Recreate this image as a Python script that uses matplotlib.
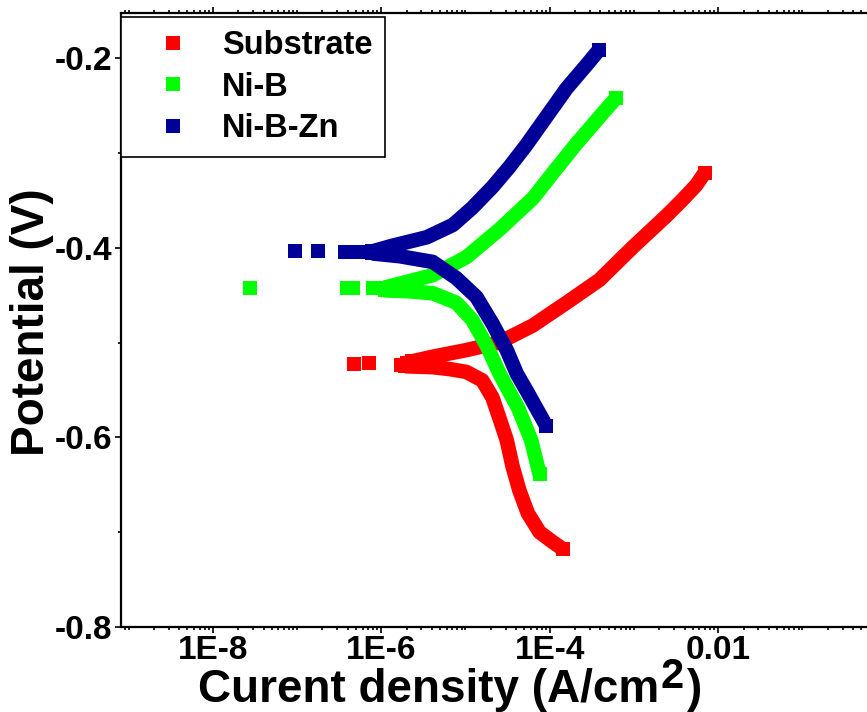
import numpy as np
import matplotlib
matplotlib.use("Agg")
import matplotlib.pyplot as plt
from matplotlib.ticker import FixedLocator, FixedFormatter, LogLocator, MultipleLocator, NullFormatter

plt.rcParams['font.family'] = ['Liberation Sans', 'DejaVu Sans']
plt.rcParams['font.weight'] = 'bold'

# -----------------------------------------------------------------------------
# Data: log10(current density / A cm^-2), potential (V)

names = ["Substrate", "Ni-B", "Ni-B-Zn"]
colors = ["#ff0000", "#00ff00", "#000099"]

# sparse points near the corrosion potential
sub_pts_logi = [-6.32, -6.14, -5.77, -5.70]
sub_pts_E = [-0.523, -0.522, -0.524, -0.522]
nib_pts_logi = [-7.56, -6.41, -6.34, -6.10, -6.03]
nib_pts_E = [-0.442, -0.443, -0.443, -0.443, -0.443]
zn_pts_logi = [-7.02, -6.75, -6.43, -6.35, -6.20]
zn_pts_E = [-0.404, -0.404, -0.405, -0.405, -0.405]

# anodic branches
sub_an_logi = [-5.64, -5.39, -4.99, -4.60, -4.20, -3.80, -3.41, -3.02, -2.61, -2.43, -2.26, -2.16]
sub_an_E = [-0.520, -0.515, -0.508, -0.500, -0.482, -0.458, -0.434, -0.400, -0.366, -0.350, -0.334, -0.321]
nib_an_logi = [-5.96, -5.78, -5.39, -4.99, -4.60, -4.20, -3.97, -3.68, -3.34, -3.21]
nib_an_E = [-0.442, -0.438, -0.429, -0.410, -0.381, -0.348, -0.322, -0.290, -0.255, -0.242]
zn_an_logi = [-6.11, -5.87, -5.46, -5.15, -4.92, -4.68, -4.48, -4.28, -4.04, -3.80, -3.56, -3.42]
zn_an_E = [-0.404, -0.398, -0.389, -0.376, -0.358, -0.336, -0.315, -0.292, -0.262, -0.232, -0.207, -0.192]

# cathodic branches
sub_ca_logi = [-5.72, -5.39, -5.19, -4.99, -4.80, -4.68, -4.60, -4.51, -4.44, -4.36, -4.26, -4.12, -3.97, -3.84]
sub_ca_E = [-0.525, -0.526, -0.528, -0.531, -0.540, -0.558, -0.579, -0.603, -0.631, -0.656, -0.680, -0.700, -0.710, -0.718]
nib_ca_logi = [-5.96, -5.66, -5.39, -5.11, -4.92, -4.75, -4.60, -4.48, -4.38, -4.22, -4.17, -4.12]
nib_ca_E = [-0.445, -0.446, -0.448, -0.458, -0.476, -0.503, -0.532, -0.552, -0.568, -0.603, -0.621, -0.639]
zn_ca_logi = [-6.11, -5.78, -5.39, -5.11, -4.87, -4.68, -4.51, -4.39, -4.26, -4.16, -4.04]
zn_ca_E = [-0.406, -0.409, -0.415, -0.432, -0.452, -0.480, -0.508, -0.533, -0.553, -0.569, -0.588]

xtick_vals = [1e-8, 1e-6, 1e-4, 1e-2]
xtick_labels = ["1E-8", "1E-6", "1E-4", "0.01"]
ytick_vals = [-0.8, -0.6, -0.4, -0.2]
ytick_labels = ["-0.8", "-0.6", "-0.4", "-0.2"]

# -----------------------------------------------------------------------------

W, H = 867, 712
fig = plt.figure(figsize=(W / 100, H / 100), dpi=100)
ax = fig.add_axes([121 / W, (H - 627) / H, 1 - 121 / W, (627 - 13) / H])

lw = 10.5
ms = 9.4
series = [
    (sub_pts_logi, sub_pts_E, sub_an_logi, sub_an_E, sub_ca_logi, sub_ca_E),
    (nib_pts_logi, nib_pts_E, nib_an_logi, nib_an_E, nib_ca_logi, nib_ca_E),
    (zn_pts_logi, zn_pts_E, zn_an_logi, zn_an_E, zn_ca_logi, zn_ca_E),
]
handles = []
for name, c, (pl, pe, al, ae, cl, ce) in zip(names, colors, series):
    h, = ax.plot(10 ** np.array(pl), pe, 's', color=c, ms=ms, mew=0, label=name)
    handles.append(h)
    for bl, be in [(al, ae), (cl, ce)]:
        ax.plot(10 ** np.array(bl), be, '-', color=c, lw=lw,
                solid_capstyle='butt', solid_joinstyle='round',
                marker='s', ms=ms + 0.6, mew=0, markevery=[0, len(bl) - 1])

ax.set_xscale('log')
ax.set_xlim(10 ** -9.09, 10 ** -0.233)
ax.set_ylim(-0.8, -0.1525)

ax.xaxis.set_major_locator(FixedLocator(xtick_vals))
ax.xaxis.set_major_formatter(FixedFormatter(xtick_labels))
ax.xaxis.set_minor_locator(LogLocator(base=10, subs=np.arange(1, 10), numticks=50))
ax.xaxis.set_minor_formatter(NullFormatter())
ax.yaxis.set_major_locator(FixedLocator(ytick_vals))
ax.yaxis.set_major_formatter(FixedFormatter(ytick_labels))
ax.yaxis.set_minor_locator(MultipleLocator(0.1))

ax.tick_params(which='both', direction='out', width=1.2, top=True)
ax.tick_params(which='major', length=4, labelsize=24, pad=2)
ax.tick_params(which='minor', length=2.5)
for lab in ax.get_xticklabels() + ax.get_yticklabels():
    lab.set_fontweight('bold')

for s in ['left', 'bottom', 'top']:
    ax.spines[s].set_linewidth(1.6)
ax.spines['right'].set_visible(False)

# Axis labels
fig.text(32 / W, 1 - 322 / H, "Potential (V)", rotation=90, ha='center', va='center',
         fontsize=33, fontweight='bold')
t1 = fig.text(198 / W, 10 / H, "Curent density (A/cm", ha='left', va='baseline',
              fontsize=33, fontweight='bold')
t2 = ax.annotate("2", xy=(1, 0), xycoords=t1, xytext=(1, 11), textcoords='offset points',
                 ha='left', va='bottom', fontsize=30, fontweight='bold', annotation_clip=False)
ax.annotate(")", xy=(1, 0), xycoords=(t2, t1), xytext=(2, 0), textcoords='offset points',
            ha='left', va='bottom', fontsize=33, fontweight='bold', annotation_clip=False)

leg = ax.legend(handles=handles, loc='upper left', bbox_to_anchor=(0, (627 - 17) / 614),
                borderaxespad=0, fancybox=False, framealpha=1, edgecolor='black',
                prop={'size': 23.5, 'weight': 'bold'}, markerscale=1.1,
                handlelength=2.4, handletextpad=0.29, labelspacing=0.32, borderpad=0.4)
leg.get_frame().set_linewidth(1.2)

fig.savefig("out.png", dpi=100)
plt.close(fig)
